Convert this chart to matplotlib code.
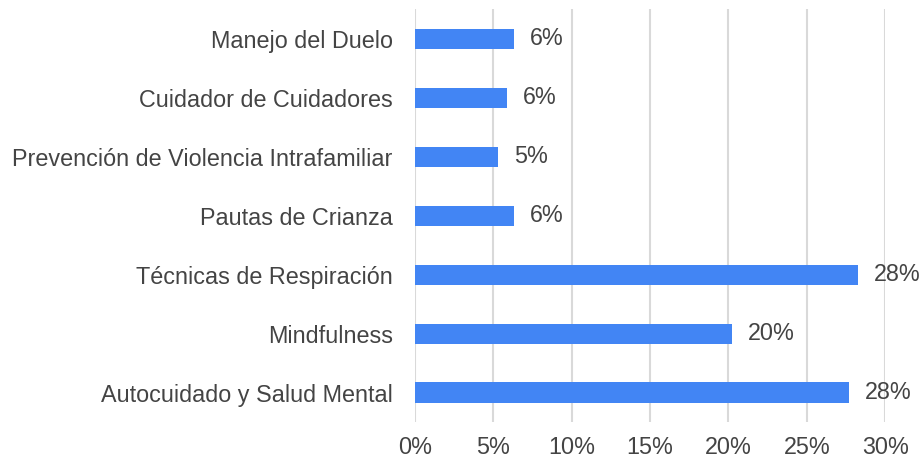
import numpy as np
import matplotlib
matplotlib.use("Agg")
import matplotlib.pyplot as plt

plt.rcParams['font.family'] = ['Liberation Sans', 'DejaVu Sans']

# data, top to bottom as shown
temas = ["Manejo del Duelo", "Cuidador de Cuidadores",
         "Prevención de Violencia Intrafamiliar", "Pautas de Crianza",
         "Técnicas de Respiración", "Mindfulness", "Autocuidado y Salud Mental"]
porcentajes = [6.34, 5.85, 5.30, 6.34, 28.25, 20.23, 27.7]
etiquetas = ["6%", "6%", "5%", "6%", "28%", "20%", "28%"]
xticks = [0, 5, 10, 15, 20, 25, 30]

fs = 16.8
gris = "#444444"

fig = plt.figure(figsize=(9.22, 4.59), dpi=100)
ax = fig.add_axes([0.450, 0.0806, 0.510, 0.8994])

y = np.arange(len(temas))
ax.barh(y, porcentajes, height=0.34, color="#4285F4", zorder=3)
for yi, v, lab in zip(y, porcentajes, etiquetas):
    ax.annotate(lab, (v, yi), xytext=(11.5, 0), textcoords="offset points",
                va="center", ha="left", fontsize=fs, color=gris)

ax.set_ylim(len(temas) - 0.5, -0.5)
ax.set_xlim(0, 30)
ax.set_yticks(y)
ax.set_yticklabels(temas)
ax.set_xticks(xticks)
ax.set_xticklabels([f"{t}%" for t in xticks])
ax.tick_params(axis="both", length=0, labelsize=fs, labelcolor=gris)
ax.tick_params(axis="y", pad=16)
ax.tick_params(axis="x", pad=10)
ax.grid(axis="x", color="#d9d9d9", linewidth=1.5, zorder=0)
for s in ax.spines.values():
    s.set_visible(False)

fig.savefig("out.png", dpi=100)
